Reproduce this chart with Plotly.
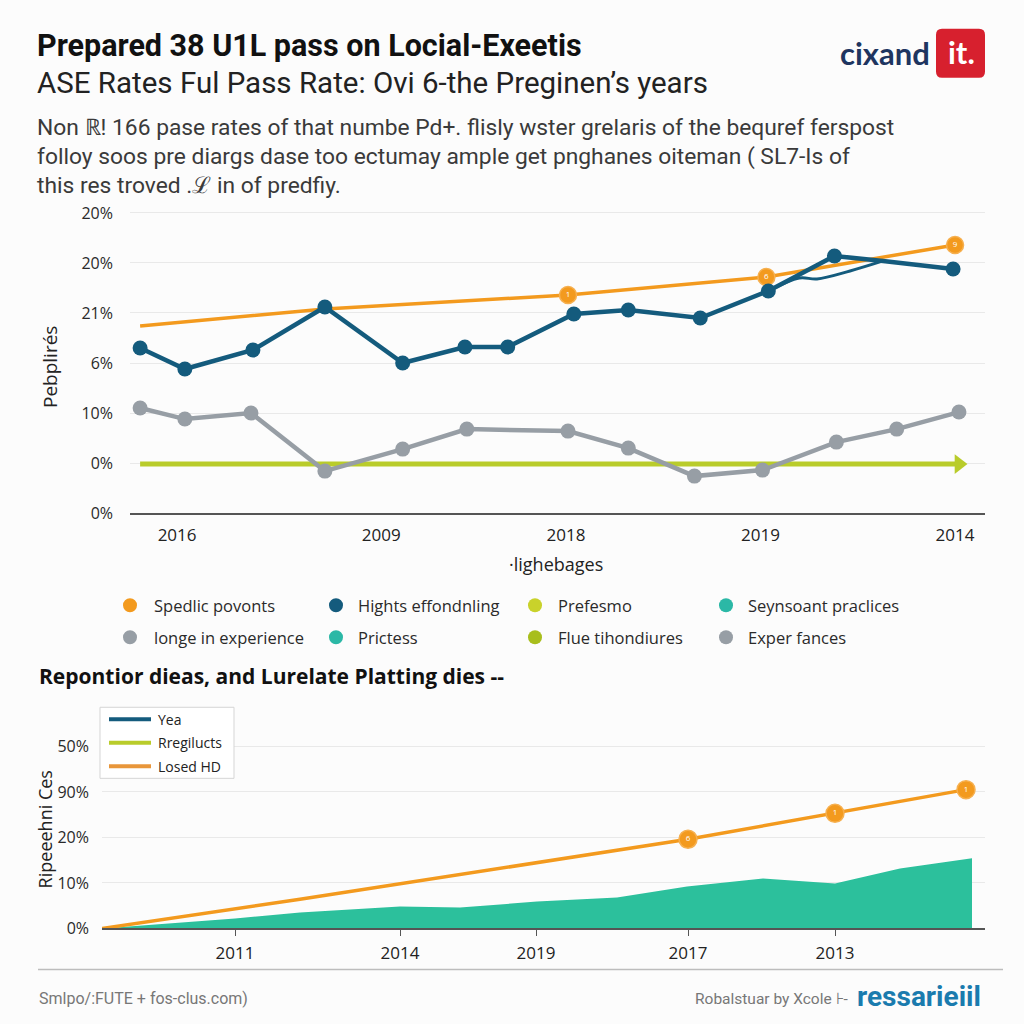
import plotly.graph_objects as go

# ---------------- data: top chart ----------------
top_x_ticks = [1, 2.05, 3.0, 4.0, 5.0]
top_x_labels = ["2016", "2009", "2018", "2019", "2014"]
top_y_ticks = [0, 10, 20, 30, 40, 50, 60]
top_y_labels = ["0%", "0%", "10%", "6%", "21%", "20%", "20%"]

blue_x = [0.81, 1.04, 1.39, 1.76, 2.16, 2.48, 2.70, 3.04, 3.32, 3.69, 4.04, 4.38, 4.63, 4.99]
blue_y = [33.0, 28.8, 32.6, 41.2, 30.0, 33.2, 33.2, 39.8, 40.6, 39.0, 44.4, 51.4, 50.4, 48.8]
blue_alt_x = [4.04, 4.20, 4.29, 4.46, 4.63]
blue_alt_y = [44.4, 47.0, 46.8, 48.4, 50.4]

gray_x = [0.81, 1.04, 1.38, 1.76, 2.16, 2.49, 3.01, 3.32, 3.66, 4.01, 4.39, 4.70, 5.02]
gray_y = [21.0, 18.8, 20.0, 8.4, 12.8, 16.8, 16.4, 13.0, 7.4, 8.6, 14.2, 16.8, 20.2]

orange_x = [0.81, 1.76, 3.01, 4.03, 5.0]
orange_y = [37.4, 40.8, 43.6, 47.2, 53.6]
orange_marks = ["", "", "1", "6", "9"]

green_x = [0.81, 5.02]
green_y = [9.8, 9.8]

top_legend = [
    ["Spedlic povonts", "Hights effondnling", "Prefesmo", "Seynsoant praclices"],
    ["longe in experience", "Prictess", "Flue tihondiures", "Exper fances"],
]

# ---------------- data: bottom chart ----------------
bot_x_ticks = [1.33, 2.98, 4.34, 5.86, 7.33]
bot_x_labels = ["2011", "2014", "2019", "2017", "2013"]
bot_y_ticks = [0, 10, 20, 30, 40]
bot_y_labels = ["0%", "10%", "20%", "90%", "50%"]

b_orange_x = [0, 1.98, 5.86, 7.33, 8.64]
b_orange_y = [0, 6.4, 19.6, 25.3, 30.5]
b_orange_marks = ["", "", "6", "1", "1"]

teal_x = [0, 1.33, 1.98, 2.98, 3.58, 4.35, 5.15, 5.85, 6.61, 7.33, 7.98, 8.70]
teal_y = [0, 2.2, 3.5, 4.8, 4.6, 5.9, 6.8, 9.2, 11.0, 9.9, 13.2, 15.4]

bot_legend = ["Yea", "Rregilucts", "Losed HD"]

# ---------------- styles ----------------
ORANGE = "#F39A1E"
BLUE = "#145B7D"
GRAY = "#979EA5"
GREEN = "#B9CC2B"
TEAL = "#2CC09C"
BG = "#FCFCFC"
FONT = "Open Sans"


def px(x):
    return x / 1024


def py(y):
    # layout position (top-down pixels) -> paper fraction, with a small
    # vertical correction for how the page is photographed
    yin = y / 0.9846 - 3.3
    return 1 - yin / 1024


fig = go.Figure()

# top chart traces
fig.add_trace(go.Scatter(x=green_x, y=green_y, mode="lines+markers", xaxis="x", yaxis="y",
                         line=dict(color=GREEN, width=5),
                         marker=dict(symbol="triangle-right", size=[0, 17], color=GREEN,
                                     opacity=1, line=dict(width=0)),
                         showlegend=False, hoverinfo="skip"))
fig.add_trace(go.Scatter(x=gray_x, y=gray_y, mode="lines+markers", xaxis="x", yaxis="y",
                         line=dict(color=GRAY, width=4.5),
                         marker=dict(size=15, color=GRAY, opacity=1, line=dict(width=0)),
                         showlegend=False))
fig.add_trace(go.Scatter(x=orange_x, y=orange_y, mode="lines+markers+text", xaxis="x", yaxis="y",
                         line=dict(color=ORANGE, width=3.5),
                         marker=dict(size=[0, 0, 17, 17, 17], color=ORANGE, opacity=1,
                                     line=dict(color="#F6B050", width=1.5)),
                         text=orange_marks, textposition="middle center",
                         textfont=dict(color="white", size=8, family=FONT),
                         showlegend=False))
fig.add_trace(go.Scatter(x=blue_alt_x, y=blue_alt_y, mode="lines", xaxis="x", yaxis="y",
                         line=dict(color=BLUE, width=3, shape="spline"),
                         showlegend=False, hoverinfo="skip"))
fig.add_trace(go.Scatter(x=blue_x, y=blue_y, mode="lines+markers", xaxis="x", yaxis="y",
                         line=dict(color=BLUE, width=4.5),
                         marker=dict(size=[15] * 12 + [0, 15], color=BLUE, opacity=1, line=dict(width=0)),
                         showlegend=False))

# bottom chart traces
fig.add_trace(go.Scatter(x=teal_x, y=teal_y, mode="lines", fill="tozeroy", xaxis="x2", yaxis="y2",
                         line=dict(color=TEAL, width=0), fillcolor=TEAL,
                         showlegend=False))
fig.add_trace(go.Scatter(x=b_orange_x, y=b_orange_y, mode="lines+markers+text", xaxis="x2", yaxis="y2",
                         line=dict(color=ORANGE, width=3.5),
                         marker=dict(size=[0, 0, 18, 18, 18], color=ORANGE, opacity=1,
                                     line=dict(color="#F6B050", width=1.5)),
                         text=b_orange_marks, textposition="middle center",
                         textfont=dict(color="white", size=8, family=FONT),
                         showlegend=False))

axis_font = dict(family=FONT, size=16, color="#2a2a2a")

fig.update_layout(
    width=1024, height=1024,
    margin=dict(l=0, r=0, t=0, b=0),
    paper_bgcolor=BG, plot_bgcolor=BG,
    showlegend=False,
    xaxis=dict(domain=[px(130), px(985)], range=[0.758, 5.154],
               tickvals=top_x_ticks, ticktext=top_x_labels, tickfont=dict(family=FONT, size=17, color="#222"),
               showgrid=False, zeroline=False, showline=True, linecolor="#555", linewidth=1.5,
               ticks="", ticklabelstandoff=6),
    yaxis=dict(domain=[py(512), py(205)], range=[0, 61.4],
               tickvals=top_y_ticks, ticktext=top_y_labels, tickfont=axis_font,
               showgrid=True, gridcolor="#E9E9E9", gridwidth=1, zeroline=False,
               ticks="", ticklabelstandoff=16),
    xaxis2=dict(domain=[px(102), px(985)], range=[0, 8.83], anchor="y2",
                tickvals=bot_x_ticks, ticktext=bot_x_labels, tickfont=dict(family=FONT, size=17, color="#222"),
                showgrid=False, zeroline=False, showline=True, linecolor="#555", linewidth=1.5,
                ticks="outside", ticklen=6, tickcolor="#555", ticklabelstandoff=2),
    yaxis2=dict(domain=[py(927), py(736)], range=[0, 42], anchor="x2",
                tickvals=bot_y_ticks, ticktext=bot_y_labels, tickfont=axis_font,
                showgrid=True, gridcolor="#E9E9E9", gridwidth=1, zeroline=False,
                ticks="", ticklabelstandoff=12),
)

shapes = []
annotations = []


def text(x, y, s, size, color="#222", family="Roboto", bold=False, xanchor="left", yanchor="middle",
         angle=0):
    annotations.append(dict(
        x=px(x), y=py(y), xref="paper", yref="paper", text=("<b>%s</b>" % s) if bold else s,
        showarrow=False, xanchor=xanchor, yanchor=yanchor, textangle=angle, borderpad=0,
        font=dict(family=family, size=size, color=color)))


# headings
text(36, 45, "Prepared 38 U1L pass on Locial-Exeetis", 30.5, "#111", "Roboto", bold=True)
text(36, 82, "ASE Rates Ful Pass Rate: Ovi 6-the Preginen\u2019s years", 29.5, "#222", "Roboto")
para = [
    "Non \u211d! 166 pase rates of that numbe Pd+. flisly wster grelaris of the bequref ferspost",
    "folloy soos pre diargs dase too ectumay ample get pnghanes oiteman ( SL7-Is of",
    "this res troved .\u2112 in of predfiy.",
]
for i, line in enumerate(para):
    text(36, 127 + i * 29, line, 22.8, "#3a3a3a", "Roboto")

# logo
text(931, 52, "cixand", 31, "#1E3560", "Lato", bold=True, xanchor="right")
shapes.append(dict(type="path", xref="paper", yref="paper",
                   path="M %f %f L %f %f Q %f %f %f %f L %f %f Q %f %f %f %f L %f %f Q %f %f %f %f L %f %f Q %f %f %f %f Z" % (
                       px(942), py(28), px(979), py(28), px(985), py(28), px(985), py(34),
                       px(985), py(71), px(985), py(77), px(979), py(77),
                       px(942), py(77), px(936), py(77), px(936), py(71),
                       px(936), py(34), px(936), py(28), px(942), py(28)),
                   fillcolor="#D7202E", line=dict(width=0), layer="above"))
text(961, 51, "it.", 31, "white", "Lato", bold=True, xanchor="center")

# top axis titles
text(50, 366, "Pebplir\u00e9s", 19, "#222", FONT, xanchor="center", angle=-90)
text(556, 563, "\u00b7lighebages", 18, "#222", FONT, xanchor="center")

# top legend
leg_colors = [
    [ORANGE, BLUE, "#C9D22B", "#2BB8A6"],
    [GRAY, "#2BB8A6", "#A8BE1C", GRAY],
]
marker_x = [130, 336, 535, 726]
label_x = [153, 357, 557, 747]
row_y = [604, 636]
for r in range(2):
    for c in range(4):
        cx, cy = marker_x[c], row_y[r]
        shapes.append(dict(type="circle", xref="paper", yref="paper",
                           x0=px(cx - 7), x1=px(cx + 7), y0=py(cy + 7), y1=py(cy - 7),
                           fillcolor=leg_colors[r][c], line=dict(width=0)))
        text(label_x[c], cy, top_legend[r][c], 16.5, "#2a2a2a", FONT)

# bottom heading
text(38, 675, "Repontior dieas, and Lurelate Platting dies --", 21, "#111", FONT, bold=True)

# bottom legend box
shapes.append(dict(type="rect", xref="paper", yref="paper", x0=px(100), x1=px(234), y0=py(777), y1=py(706),
                   fillcolor="white", line=dict(color="#D5D5D5", width=1), layer="above"))
bl_colors = [BLUE, "#B9CC2B", "#E8963A"]
for i, lab in enumerate(bot_legend):
    yy = 718 + i * 23.5
    shapes.append(dict(type="line", xref="paper", yref="paper", x0=px(109), x1=px(151), y0=py(yy), y1=py(yy),
                       line=dict(color=bl_colors[i], width=4), layer="above"))
    text(157, yy, lab, 14, "#222", FONT)

text(45, 828, "Ripeeehni Ces", 18, "#222", FONT, xanchor="center", angle=-90)

# footer
shapes.append(dict(type="line", xref="paper", yref="paper", x0=px(38), x1=px(1003), y0=py(968), y1=py(968),
                   line=dict(color="#BDBDBD", width=1.5)))
text(38, 997, "Smlpo/:FUTE + fos-clus.com)", 16, "#777", "Roboto")
text(849, 997, "Robalstuar by Xcole \u22a6-", 15.5, "#777", "Roboto", xanchor="right")
text(856, 995, "ressarieiil", 28, "#1A7BAE", "Roboto", bold=True)

fig.update_layout(shapes=shapes, annotations=annotations)

fig.write_html(
    "out.html",
    config={"displayModeBar": False},
    post_script=("document.documentElement.style.overflow='hidden';"
                 "document.documentElement.style.height='1024px';"
                 "document.body.style.margin='0px';"
                 "document.body.style.overflow='hidden';"
                 "document.body.style.height='1024px';"),
)
